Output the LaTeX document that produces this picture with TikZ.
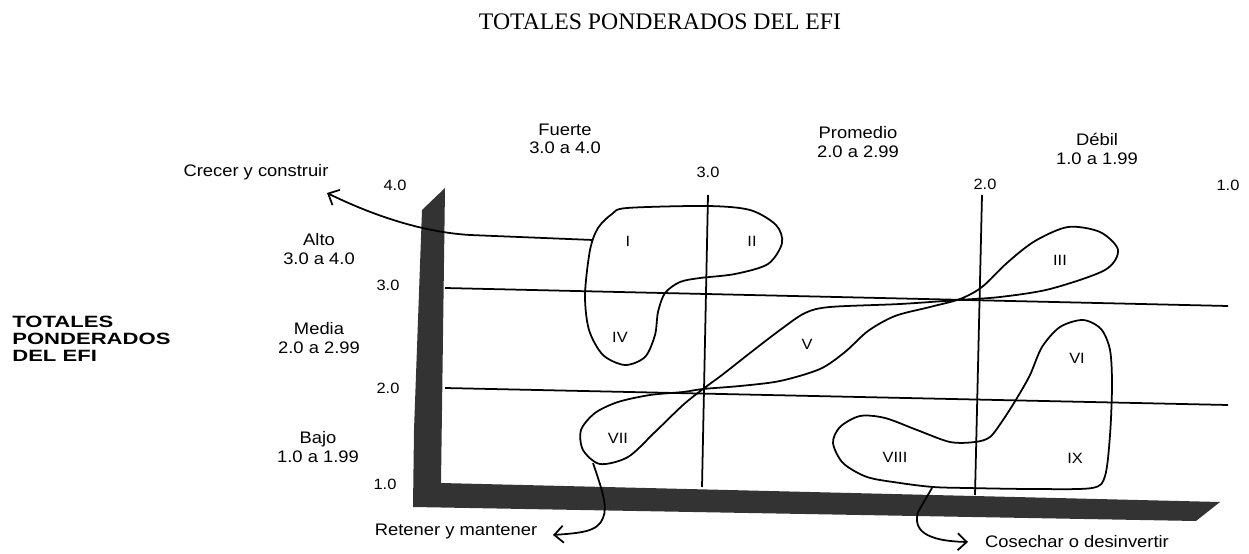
\documentclass[tikz,border=0pt]{standalone}
\usepackage{fontspec}
\setmainfont{Liberation Serif}
\newfontfamily\lblfont[FakeStretch=1.1]{Liberation Sans}
\newfontfamily\sidefont[FakeStretch=1.35]{Liberation Sans}
\usetikzlibrary{arrows.meta}
\tikzset{
  lbl/.style={font=\lblfont\fontsize{9.5}{10.5}\selectfont, align=center, inner sep=0pt},
  tick/.style={font=\lblfont\fontsize{8.5}{9}\selectfont, inner sep=0pt},
  roman/.style={font=\lblfont\fontsize{8.5}{9}\selectfont, inner sep=0pt},
  gridline/.style={line width=1pt},
  blob/.style={line width=1pt},
  bar/.style={fill=black!80},
  act/.style={line width=1pt, -{Straight Barb[length=1.8mm,width=3.4mm]}},
}
\newcommand{\zona}[4]{\node[roman] (#1) at (#2,#3) {#4};}
\newcommand{\ticklbl}[4]{\node[tick] (#1) at (#2,#3) {#4};}

\begin{document}
\begin{tikzpicture}[x=0.2mm, y=-0.2mm]
  \useasboundingbox (0,0) rectangle (1249,554);
  % title
  \node[font=\fontsize{13.5}{15}\selectfont, inner sep=0pt] (titulo) at (660,22) {TOTALES PONDERADOS DEL EFI};

  % thick axis bars
  \fill[bar] (422,210) -- (445,188) -- (441,483) -- (1220,502) -- (1196,521)
             -- (413,507) -- (414,430) -- cycle;

  % grid
  \coordinate (h3a) at (445,288);  \coordinate (h3b) at (1228,306);
  \coordinate (h2a) at (445,388);  \coordinate (h2b) at (1228,405);
  \coordinate (v3a) at (708,195);  \coordinate (v3b) at (702,487);
  \coordinate (v2a) at (982,195);  \coordinate (v2b) at (975,495);
  \draw[gridline] (h3a) -- (h3b);
  \draw[gridline] (h2a) -- (h2b);
  \draw[gridline] (v3a) -- (v3b);
  \draw[gridline] (v2a) -- (v2b);

  % tick labels
  \ticklbl{x4}{395}{185}{4.0}
  \ticklbl{x3}{708}{172}{3.0}
  \ticklbl{x2}{985}{184}{2.0}
  \ticklbl{x1}{1228}{185}{1.0}
  \ticklbl{y3}{388}{285}{3.0}
  \ticklbl{y2}{388}{388}{2.0}
  \ticklbl{y1}{385}{484}{1.0}

  % column and row headings
  \node[lbl] (fuerte)   at (565,139)  {Fuerte\\3.0 a 4.0};
  \node[lbl] (promedio) at (858,142)  {Promedio\\2.0 a 2.99};
  \node[lbl] (debil)    at (1097,149) {Débil\\1.0 a 1.99};
  \node[lbl] (alto)  at (319,249) {Alto\\3.0 a 4.0};
  \node[lbl] (media) at (319,338) {Media\\2.0 a 2.99};
  \node[lbl] (bajo)  at (318,447) {Bajo\\1.0 a 1.99};
  \node[font=\sidefont\bfseries\fontsize{9.3}{9.8}\selectfont, align=left, anchor=west, inner sep=0pt]
    (efi) at (12,339) {TOTALES\\PONDERADOS\\DEL EFI};

  % regions
  \draw[blob] plot[smooth cycle] coordinates {(627,208) (707,206) (750,210) (776,225)
    (782,243) (768,264) (735,274) (700,278) (680,282) (665,293) (658,312) (655,335)
    (645,357) (625,365) (603,355) (589,330) (585,295) (590,250) (598,228) (612,214)};
  \draw[blob] plot[smooth cycle] coordinates {(600,464) (583,450) (581,430) (595,413)
    (618,402) (650,395) (683,392) (703,389) (740,386) (780,381) (820,369) (845,352)
    (868,331) (895,316) (930,307) (960,299) (982,287) (1008,262) (1035,241) (1068,227)
    (1100,232) (1118,250) (1105,270) (1050,289) (1000,297) (958,300) (900,304)
    (830,307) (805,313) (780,330) (750,353) (722,375) (703,389) (683,405) (655,432)
    (628,457)};
  \draw[blob] plot[smooth cycle] coordinates {(1083,320) (1101,329) (1110,350)
    (1112,385) (1110,435) (1105,476) (1092,488) (1033,489) (967,488) (933,487)
    (900,483) (867,477) (843,463) (833,443) (840,427) (860,416) (885,418) (917,430)
    (950,442) (975,442) (990,437) (1003,420) (1017,398) (1030,375) (1042,347)
    (1060,327)};

  \zona{rI}{628}{241}{I}
  \zona{rII}{752}{241}{II}
  \zona{rIII}{1060}{260}{III}
  \zona{rIV}{620}{337}{IV}
  \zona{rV}{807}{344}{V}
  \zona{rVI}{1077}{358}{VI}
  \zona{rVII}{618}{438}{VII}
  \zona{rVIII}{895}{457}{VIII}
  \zona{rIX}{1075}{458}{IX}

  % strategies
  \node[lbl] (crecer)   at (256,172)  {Crecer y construir};
  \node[lbl] (retener)  at (456,531)  {Retener y mantener};
  \node[lbl] (cosechar) at (1077,542) {Cosechar o desinvertir};
  \coordinate (sI)    at (593,240);
  \coordinate (tI)    at (327,193);
  \coordinate (sVII)  at (593,463);
  \coordinate (tVII)  at (553,535);
  \coordinate (sVIII) at (932,488);
  \coordinate (tVIII) at (968,542);
  \draw[act] (sI) -- (470,235) .. controls (420,232) and (370,214) .. (tI);
  \draw[act] (sVII) .. controls (602,490) and (608,506) .. (603,518)
             .. controls (598,532) and (580,533) .. (tVII);
  \draw[act] (sVIII) -- (918,512) .. controls (913,530) and (925,541) .. (tVIII);
\end{tikzpicture}
\end{document}
